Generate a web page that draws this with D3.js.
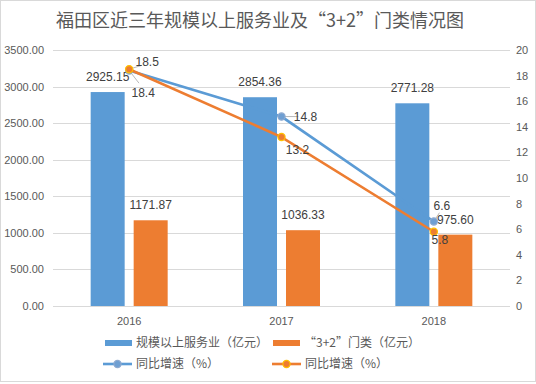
<!DOCTYPE html>
<html>
  <head>
    <meta charset="utf-8">
    <title>福田区近三年规模以上服务业及“3+2”门类情况图</title>
    <script src="https://d3js.org/d3.v7.min.js"></script>
    <style>
      body { margin: 0; background: #fff; }
      text { font-family: "Liberation Sans", "Noto Sans CJK SC", sans-serif; }
      .cjk { font-family: "Noto Sans CJK SC", sans-serif; }
    </style>
  </head>
  <body>
    <div id="chart"></div>
    <script>
      // data
      var years = ["2016", "2017", "2018"];
      var serviceValues = [2925.15, 2854.36, 2771.28];
      var groupValues = [1171.87, 1036.33, 975.60];
      var serviceGrowth = [18.4, 14.8, 6.6];
      var groupGrowth = [18.5, 13.2, 5.8];
      var leftTicks = [0, 500, 1000, 1500, 2000, 2500, 3000, 3500];
      var rightTicks = [0, 2, 4, 6, 8, 10, 12, 14, 16, 18, 20];
      var legendNames = ["规模以上服务业（亿元）", "“3+2”门类（亿元）", "同比增速（%）", "同比增速（%）"];

      // hand placed label offsets for the line points (like the excel original)
      var serviceLabelOffset = [[14, 23], [24, 0], [8, -16]];
      var groupLabelOffset = [[18, -7], [16, 13], [6, 8]];

      var width = 536, height = 384;
      var margin = { top: 50, right: 26, bottom: 78, left: 53 };
      var blue = "#5b9bd5", orange = "#ed7d31", grid = "#d9d9d9", textCol = "#595959";

      var svg = d3.select("#chart").append("svg")
        .attr("width", width)
        .attr("height", height);

      // outer border
      svg.append("rect")
        .attr("x", 0.5).attr("y", 0.5)
        .attr("width", width - 1).attr("height", height - 3)
        .attr("fill", "#fff")
        .attr("stroke", "#d9d9d9");

      var x = d3.scaleBand()
        .domain(years)
        .range([margin.left, width - margin.right]);
      var yLeft = d3.scaleLinear()
        .domain([0, 3500])
        .range([height - margin.bottom, margin.top]);
      var yRight = d3.scaleLinear()
        .domain([0, 20])
        .range([height - margin.bottom, margin.top]);

      // title
      svg.append("text")
        .attr("class", "cjk")
        .attr("x", width / 2 - 8)
        .attr("y", 27)
        .attr("text-anchor", "middle")
        .attr("font-size", 18)
        .attr("fill", textCol)
        .text("福田区近三年规模以上服务业及“3+2”门类情况图");

      // gridlines
      svg.append("g")
        .selectAll("line")
        .data(leftTicks)
        .enter().append("line")
          .attr("x1", margin.left)
          .attr("x2", width - margin.right)
          .attr("y1", function(d) { return Math.round(yLeft(d)) + 0.5; })
          .attr("y2", function(d) { return Math.round(yLeft(d)) + 0.5; })
          .attr("stroke", grid);

      // left axis
      var leftAxis = svg.append("g")
        .attr("transform", "translate(" + (margin.left - 9) + ",0)")
        .call(d3.axisLeft(yLeft).tickValues(leftTicks).tickSize(0).tickPadding(0).tickFormat(d3.format(".2f")));
      leftAxis.select(".domain").remove();

      // right axis
      var rightAxis = svg.append("g")
        .attr("transform", "translate(" + (width - margin.right + 6) + ",0)")
        .call(d3.axisRight(yRight).tickValues(rightTicks).tickSize(0).tickPadding(0));
      rightAxis.select(".domain").remove();

      // bottom axis
      var bottomAxis = svg.append("g")
        .attr("transform", "translate(0," + (height - margin.bottom) + ")")
        .call(d3.axisBottom(x).tickSize(0).tickPadding(11));
      bottomAxis.select(".domain").remove();

      svg.selectAll(".tick text")
        .attr("font-family", "'Liberation Sans', sans-serif")
        .attr("font-size", 11)
        .attr("fill", textCol);

      // bars
      var barW = 34, barGap = 9;
      var bars = svg.append("g");
      bars.selectAll(".service")
        .data(serviceValues)
        .enter().append("rect")
          .attr("class", "service")
          .attr("x", function(d, i) { return x(years[i]) + x.bandwidth() / 2 - barGap / 2 - barW; })
          .attr("y", function(d) { return yLeft(d); })
          .attr("width", barW)
          .attr("height", function(d) { return yLeft(0) - yLeft(d); })
          .attr("fill", blue);
      bars.selectAll(".group")
        .data(groupValues)
        .enter().append("rect")
          .attr("class", "group")
          .attr("x", function(d, i) { return x(years[i]) + x.bandwidth() / 2 + barGap / 2; })
          .attr("y", function(d) { return yLeft(d); })
          .attr("width", barW)
          .attr("height", function(d) { return yLeft(0) - yLeft(d); })
          .attr("fill", orange);

      // bar labels
      var labels = svg.append("g")
        .attr("font-size", 12)
        .attr("fill", "#404040")
        .attr("text-anchor", "middle");
      labels.selectAll(".slab")
        .data(serviceValues)
        .enter().append("text")
          .attr("x", function(d, i) { return x(years[i]) + x.bandwidth() / 2 - barGap / 2 - barW / 2; })
          .attr("y", function(d) { return yLeft(d) - 11; })
          .text(d3.format(".2f"));
      labels.selectAll(".glab")
        .data(groupValues)
        .enter().append("text")
          .attr("x", function(d, i) { return x(years[i]) + x.bandwidth() / 2 + barGap / 2 + barW / 2; })
          .attr("y", function(d) { return yLeft(d) - 11; })
          .text(d3.format(".2f"));

      // lines
      function cx(i) { return x(years[i]) + x.bandwidth() / 2; }
      var line = d3.line()
        .x(function(d, i) { return cx(i); })
        .y(function(d) { return yRight(d); });

      function drawSeries(values, colour, markerFill, markerStroke, offsets) {
        var g = svg.append("g");
        // leader lines
        g.selectAll(".leader")
          .data(values)
          .enter().append("line")
            .attr("x1", function(d, i) { return cx(i); })
            .attr("y1", function(d) { return yRight(d); })
            .attr("x2", function(d, i) { return cx(i) + offsets[i][0] * 0.7; })
            .attr("y2", function(d, i) { return yRight(d) + offsets[i][1] * 0.55; })
            .attr("stroke", "#a6a6a6")
            .attr("stroke-width", 0.8);
        g.append("path")
          .datum(values)
          .attr("d", line)
          .attr("fill", "none")
          .attr("stroke", colour)
          .attr("stroke-width", 2.6)
          .attr("stroke-linecap", "round");
        g.selectAll("circle")
          .data(values)
          .enter().append("circle")
            .attr("cx", function(d, i) { return cx(i); })
            .attr("cy", function(d) { return yRight(d); })
            .attr("r", 3.6)
            .attr("fill", markerFill)
            .attr("stroke", markerStroke)
            .attr("stroke-width", 1.2);
        return g;
      }
      drawSeries(serviceGrowth, blue, "#6f9fd2", "#8eaad0", serviceLabelOffset);
      drawSeries(groupGrowth, orange, orange, "#ffc000", groupLabelOffset);

      // line labels
      var lineLabels = svg.append("g")
        .attr("font-size", 12)
        .attr("fill", "#404040")
        .attr("text-anchor", "middle");
      lineLabels.selectAll(".sg")
        .data(serviceGrowth)
        .enter().append("text")
          .attr("x", function(d, i) { return cx(i) + serviceLabelOffset[i][0]; })
          .attr("y", function(d, i) { return yRight(d) + serviceLabelOffset[i][1] + 4; })
          .text(d3.format(".1f"));
      lineLabels.selectAll(".gg")
        .data(groupGrowth)
        .enter().append("text")
          .attr("x", function(d, i) { return cx(i) + groupLabelOffset[i][0]; })
          .attr("y", function(d, i) { return yRight(d) + groupLabelOffset[i][1] + 4; })
          .text(d3.format(".1f"));

      // legend
      var legend = svg.append("g")
        .attr("font-size", 12)
        .attr("fill", textCol);
      var items = [
        { x: 105, y: 343, type: "bar", colour: blue, fill: blue, stroke: blue },
        { x: 273, y: 343, type: "bar", colour: orange, fill: orange, stroke: orange },
        { x: 103, y: 364, type: "line", colour: blue, fill: "#6f9fd2", stroke: "#8eaad0" },
        { x: 272, y: 364, type: "line", colour: orange, fill: orange, stroke: "#ffc000" }
      ];
      items.forEach(function(it, i) {
        var g = legend.append("g").attr("transform", "translate(" + it.x + "," + it.y + ")");
        if (it.type == "bar") {
          g.append("rect")
            .attr("x", 0).attr("y", -3)
            .attr("width", 27).attr("height", 6)
            .attr("fill", it.colour);
        } else {
          g.append("line")
            .attr("x1", 0).attr("x2", 29)
            .attr("stroke", it.colour)
            .attr("stroke-width", 2.6);
          g.append("circle")
            .attr("cx", 14.5).attr("r", 3.6)
            .attr("fill", it.fill)
            .attr("stroke", it.stroke)
            .attr("stroke-width", 1.2);
        }
        g.append("text")
          .attr("class", "cjk")
          .attr("x", it.type == "bar" ? 31 : 33)
          .attr("y", 0)
          .attr("dy", "0.35em")
          .text(legendNames[i]);
      });
    </script>
  </body>
</html>
